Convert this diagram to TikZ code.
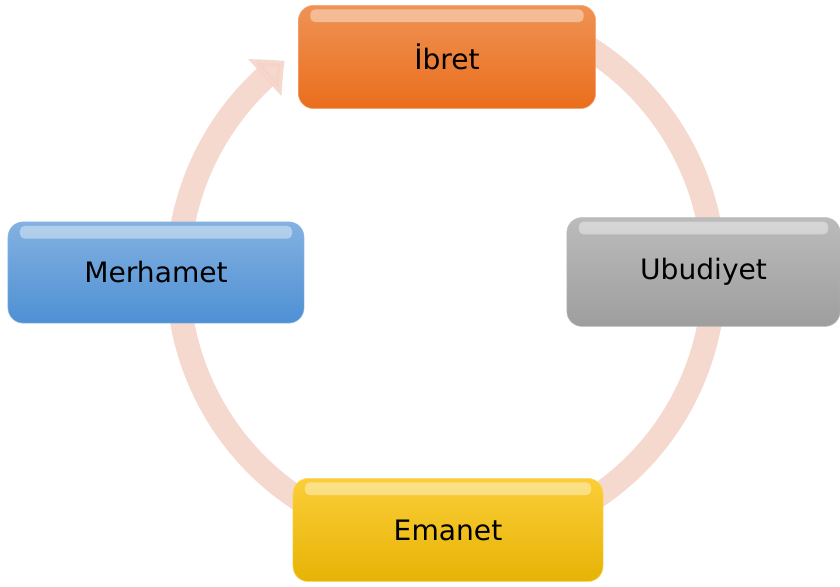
\documentclass[tikz,border=0pt]{standalone}
\usepackage{fontspec}
\setmainfont{DejaVu Sans}
\usetikzlibrary{arrows.meta,bending,positioning,calc}
\definecolor{ibretorange}{RGB}{234,110,28}
\definecolor{ubudgray}{RGB}{158,158,158}
\definecolor{emanetyellow}{RGB}{250,194,6}
\definecolor{merhametblue}{RGB}{78,144,212}
\definecolor{ringpink}{RGB}{245,210,198}
\tikzset{
  cyclebox/.style={
    rounded corners=0.38cm,align=center,inner sep=4pt,
    font=\fontsize{20}{24}\selectfont,text=black,
    path picture={
      \fill[white,opacity=0.4,rounded corners=0.12cm]
        ($(path picture bounding box.north west)+(0.3cm,-0.1cm)$) rectangle
        ($(path picture bounding box.north east)+(-0.3cm,-0.42cm)$);
    }
  },
  ibretbox/.style={cyclebox,draw=ibretorange!60,top color=ibretorange!75!white,bottom color=ibretorange,
    minimum width=7.43cm,minimum height=2.58cm},
  ubudbox/.style={cyclebox,draw=ubudgray!70,top color=ubudgray!70!white,bottom color=ubudgray,
    minimum width=6.83cm,minimum height=2.72cm},
  emanetbox/.style={cyclebox,draw=emanetyellow!60,top color=emanetyellow!80!white,bottom color=emanetyellow!92!black,
    minimum width=7.75cm,minimum height=2.58cm},
  merhametbox/.style={cyclebox,draw=merhametblue!60,top color=merhametblue!70!white,bottom color=merhametblue,
    minimum width=7.4cm,minimum height=2.53cm},
  ringarrow/.style={-{Triangle[length=0.65cm,width=1.2cm,bend]},line width=0.6cm,draw=ringpink,opacity=0.85}
}

\begin{document}
\begin{tikzpicture}[x=0.025cm,y=0.025cm]
  \useasboundingbox (0,0) rectangle (840,586);
  \coordinate (ctr) at (446,311);
  % ring behind the boxes
  \draw[ringarrow] (ctr) ++(70:268) arc[start angle=70,end angle=-233,radius=268];
  \node[ibretbox] (ibret) at (447,529) {İbret};
  \node[ubudbox] (ubud) at (703.5,314) {Ubudiyet};
  \node[emanetbox] (emanet) at (448,56) {Emanet};
  \node[merhametbox] (merhamet) at (156,313.5) {Merhamet};
\end{tikzpicture}
\end{document}
